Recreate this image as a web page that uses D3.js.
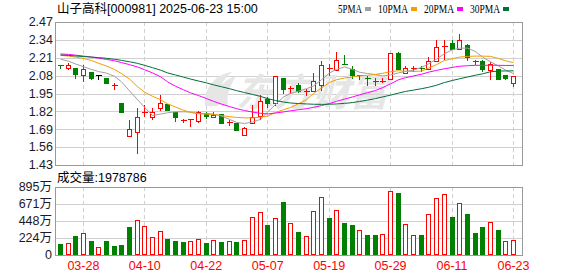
<!DOCTYPE html>
<html><head><meta charset="utf-8">
<script src="https://cdn.jsdelivr.net/npm/d3@7"></script>
<style>
html,body{margin:0;padding:0;background:#fff;}
svg{display:block;font-family:"Liberation Sans","Noto Sans CJK SC",sans-serif;}
</style></head><body>
<svg id="c" width="578" height="276"></svg>
<script>
const title = "山子高科[000981] 2025-06-23 15:00";
const dates = ["03-25","03-26","03-27","03-28","03-31","04-01","04-02","04-03","04-07","04-08",
"04-09","04-10","04-11","04-14","04-15","04-16","04-17","04-18","04-21","04-22",
"04-23","04-24","04-25","04-28","04-29","04-30","05-06","05-07","05-08","05-09",
"05-12","05-13","05-14","05-15","05-16","05-19","05-20","05-21","05-22","05-23",
"05-26","05-27","05-28","05-29","05-30","06-03","06-04","06-05","06-06","06-09",
"06-10","06-11","06-12","06-13","06-16","06-17","06-18","06-19","06-20","06-23"];
const opens = [2.157,2.138,2.133,2.085,2.106,2.082,2.065,2.010,1.880,1.638,
1.668,1.812,1.779,1.847,1.871,1.815,1.757,1.758,1.752,1.810,
1.779,1.799,1.742,1.735,1.651,1.738,1.784,1.910,1.881,2.063,
1.990,2.009,1.964,1.966,2.009,2.134,2.118,2.164,2.131,2.075,
2.064,2.042,2.040,2.058,2.242,2.097,2.132,2.132,2.131,2.189,
2.294,2.317,2.276,2.300,2.185,2.184,2.118,2.128,2.087,2.029];
const highs = [2.167,2.177,2.133,2.167,2.114,2.082,2.065,2.034,1.880,1.766,
1.854,1.874,1.849,1.946,1.881,1.815,1.772,1.772,1.828,1.825,
1.823,1.811,1.767,1.743,1.716,1.871,1.946,1.932,2.075,2.063,
2.009,2.031,1.990,2.106,2.194,2.172,2.257,2.237,2.155,2.094,
2.082,2.070,2.070,2.242,2.259,2.160,2.155,2.160,2.223,2.344,
2.344,2.346,2.388,2.315,2.198,2.198,2.184,2.128,2.087,2.082];
const lows = [2.133,2.131,2.065,2.043,2.053,2.058,2.029,1.985,1.818,1.638,
1.520,1.784,1.767,1.832,1.832,1.753,1.743,1.716,1.740,1.774,
1.779,1.738,1.723,1.687,1.651,1.738,1.762,1.849,1.869,1.954,
1.954,1.961,1.937,1.966,1.975,2.087,2.118,2.162,2.063,2.058,
2.014,2.014,2.033,2.058,2.128,2.097,2.111,2.111,2.131,2.189,
2.199,2.276,2.276,2.196,2.167,2.111,2.058,2.058,2.058,2.008];
const closes = [2.150,2.157,2.092,2.126,2.065,2.082,2.029,2.013,1.818,1.692,
1.777,1.815,1.816,1.881,1.832,1.782,1.760,1.761,1.815,1.784,
1.794,1.738,1.745,1.687,1.697,1.777,1.896,1.881,2.075,1.983,
1.993,1.965,1.968,2.039,2.155,2.136,2.191,2.162,2.082,2.087,
2.062,2.040,2.042,2.242,2.128,2.133,2.135,2.130,2.189,2.286,
2.296,2.276,2.337,2.218,2.183,2.131,2.165,2.058,2.065,2.077];
const volumes = [145,153,250,285,184,101,184,118,132,368,
456,377,232,311,210,184,171,180,210,158,
193,171,180,171,193,496,561,395,487,697,
417,303,250,575,759,487,592,421,395,325,
263,263,272,838,812,404,259,259,535,746,
798,496,680,535,285,368,430,325,180,197.8786];
const ma5 = [2.200,2.185,2.165,2.145,2.125,2.110,2.098,2.075,2.035,1.970,
1.905,1.850,1.790,1.800,1.810,1.817,1.817,1.815,1.805,1.805,
1.800,1.786,1.762,1.740,1.732,1.742,1.762,1.815,1.870,1.925,
1.950,1.967,1.985,2.005,2.050,2.100,2.125,2.143,2.125,2.105,
2.095,2.088,2.078,2.085,2.100,2.110,2.120,2.140,2.165,2.200,
2.240,2.268,2.280,2.280,2.255,2.215,2.180,2.150,2.120,2.095];
const ma10 = [2.228,2.222,2.215,2.205,2.190,2.170,2.150,2.125,2.095,2.055,
2.000,1.960,1.930,1.905,1.875,1.852,1.828,1.812,1.803,1.800,
1.797,1.790,1.782,1.776,1.773,1.772,1.778,1.785,1.812,1.832,
1.848,1.875,1.905,1.950,1.990,2.030,2.050,2.063,2.070,2.078,
2.082,2.088,2.097,2.108,2.116,2.112,2.110,2.113,2.135,2.160,
2.190,2.203,2.215,2.220,2.222,2.222,2.220,2.205,2.188,2.175];
const ma20 = [2.238,2.234,2.229,2.222,2.215,2.207,2.198,2.188,2.175,2.160,
2.143,2.123,2.100,2.072,2.035,2.003,1.977,1.955,1.935,1.913,
1.893,1.873,1.855,1.840,1.826,1.815,1.806,1.801,1.808,1.816,
1.824,1.832,1.840,1.849,1.862,1.877,1.893,1.909,1.925,1.940,
1.956,1.972,1.992,2.020,2.050,2.065,2.078,2.090,2.105,2.118,
2.130,2.140,2.148,2.152,2.155,2.155,2.155,2.155,2.154,2.154];
const ma30 = [2.230,2.227,2.223,2.219,2.215,2.211,2.206,2.199,2.191,2.181,
2.169,2.155,2.138,2.120,2.100,2.085,2.069,2.055,2.041,2.027,
2.013,1.999,1.985,1.971,1.957,1.943,1.929,1.913,1.899,1.888,
1.881,1.877,1.874,1.872,1.871,1.872,1.874,1.878,1.884,1.892,
1.902,1.913,1.925,1.938,1.953,1.965,1.975,1.985,1.995,2.010,
2.030,2.045,2.057,2.070,2.083,2.093,2.108,2.113,2.114,2.115];
const priceTicks = [2.47,2.34,2.21,2.08,1.95,1.82,1.69,1.56,1.43];
const volTicks = [0,224,448,671,895];
const dateLabels = ["03-28","04-10","04-22","05-07","05-19","05-29","06-11","06-23"];
const legendNames = ["5PMA","10PMA","20PMA","30PMA"];
const maColors = ["#a0a0a0","#f0a000","#ff00ff","#00703c"];
const maSeries = [ma5, ma10, ma20, ma30];

const RED = "#ff0000", GREEN = "#008000", FRAME = "#999", GRID = "#d0d0d0";
const L = 55, R = 522, T = 22, B = 165, VT = 187, VB = 255;

const svg = d3.select("#c");
const x = d3.scaleBand().domain(dates).range([56.5, 517.3]);
const cx = i => Math.floor(x(dates[i]) + x.bandwidth() / 2) + 0.5;
const y = d3.scaleLinear().domain([1.43, 2.47]).range([B, T]);
const yv = d3.scaleLinear().domain([0, 895]).range([VB, VT]);
const py = v => Math.round(y(v)) + 0.5;

// grids
const grid = svg.append("g").attr("shape-rendering", "crispEdges");
grid.selectAll(".hp").data(priceTicks.slice(1, -1)).join("line")
  .attr("x1", L).attr("x2", R).attr("y1", d => Math.round(y(d)) + 0.5).attr("y2", d => Math.round(y(d)) + 0.5)
  .attr("stroke", GRID);
grid.selectAll(".hv").data(volTicks.slice(1, -1)).join("line")
  .attr("x1", L).attr("x2", R).attr("y1", d => Math.round(yv(d)) + 0.5).attr("y2", d => Math.round(yv(d)) + 0.5)
  .attr("stroke", GRID);
const dl = d => Math.floor(x(d) + x.bandwidth() / 2) + 0.5;
[[T, B], [VT, VB]].forEach(([a, b]) => {
  grid.append("g").selectAll("line").data(dateLabels).join("line")
    .attr("x1", dl).attr("x2", dl).attr("y1", a).attr("y2", b)
    .attr("stroke", GRID).attr("stroke-dasharray", "4,3");
});

// watermark
svg.append("text").attr("x", 236).attr("y", 106).attr("font-size", 38).attr("font-weight", "bold")
  .attr("font-style", "italic").attr("fill", "#e6e6e6").attr("font-family", "Noto Sans CJK SC")
  .text("东方财富");
svg.append("path").attr("d", "M205,106 C203,90 214,74 232,72 C222,80 216,92 218,106 Z M214,104 C214,92 222,80 236,76 C230,86 226,96 228,106 Z")
  .attr("fill", "#e6e6e6");

// frames
const fr = svg.append("g").attr("fill", "none").attr("stroke", FRAME).attr("shape-rendering", "crispEdges");
fr.append("rect").attr("x", L + 0.5).attr("y", T + 0.5).attr("width", R - L).attr("height", B - T);
fr.append("rect").attr("x", L + 0.5).attr("y", VT + 0.5).attr("width", R - L).attr("height", VB - VT);

// candles
const cg = svg.append("g").attr("shape-rendering", "crispEdges");
dates.forEach((d, i) => {
  const o = opens[i], c = closes[i], h = highs[i], l = lows[i];
  const col = c > o ? RED : (c < o ? GREEN : "#000");
  const X = cx(i);
  const top = py(Math.max(o, c)), bot = py(Math.min(o, c));
  cg.append("line").attr("x1", X).attr("x2", X).attr("y1", py(h)).attr("y2", py(l)).attr("stroke", col);
  if (bot - top < 1.5) {
    cg.append("line").attr("x1", X - 3).attr("x2", X + 3).attr("y1", top).attr("y2", top).attr("stroke", col);
  } else if (c > o) {
    cg.append("rect").attr("x", X - 2).attr("y", top).attr("width", 4).attr("height", bot - top)
      .attr("fill", "#fff").attr("stroke", col);
  } else {
    cg.append("rect").attr("x", X - 2.5).attr("y", top - 0.5).attr("width", 5).attr("height", bot - top + 1)
      .attr("fill", col);
  }
});

// MA lines
maSeries.forEach((s, k) => {
  svg.append("path").datum(s)
    .attr("d", d3.line().x((v, i) => cx(i)).y(v => y(v)))
    .attr("fill", "none").attr("stroke", maColors[k]).attr("stroke-width", 1);
});

// volume bars
const vg = svg.append("g").attr("shape-rendering", "crispEdges");
volumes.forEach((v, i) => {
  const up = i === 0 ? closes[i] >= opens[i] : closes[i] >= closes[i - 1];
  const X = cx(i);
  const top = Math.round(yv(v));
  if (up) {
    vg.append("rect").attr("x", X - 2).attr("y", top + 0.5).attr("width", 4).attr("height", VB - top - 1)
      .attr("fill", "#fff").attr("stroke", RED);
  } else {
    vg.append("rect").attr("x", X - 2.5).attr("y", top).attr("width", 5).attr("height", VB - top)
      .attr("fill", GREEN);
  }
});

// axes
const ya = svg.append("g").attr("transform", `translate(${L},0)`)
  .call(d3.axisLeft(y).tickValues(priceTicks).tickSize(0).tickPadding(2).tickFormat(d3.format(".2f")));
const yva = svg.append("g").attr("transform", `translate(${L},0)`)
  .call(d3.axisLeft(yv).tickValues(volTicks).tickSize(0).tickPadding(3).tickFormat(d => d === 0 ? "0" : d + "万"));
const xa = svg.append("g").attr("transform", `translate(0,${VB})`)
  .call(d3.axisBottom(x).tickValues(dateLabels).tickSize(0).tickPadding(6));
[ya, yva, xa].forEach(g => {
  g.select(".domain").remove();
  g.selectAll("text").attr("font-size", 12.5).attr("font-family", "Liberation Sans, Noto Sans CJK SC");
});
ya.selectAll("text").attr("fill", "#1a1a2a").attr("dy", "0.3em");
yva.selectAll("text").attr("fill", "#1a1a2a").attr("dy", "0.3em");
xa.selectAll("text").attr("fill", RED);

// title & labels
svg.append("text").attr("x", 57).attr("y", 13).attr("font-size", 12.5).attr("fill", "#000").text(title);
svg.append("text").attr("x", 57).attr("y", 182).attr("font-size", 12.5).attr("fill", "#000")
  .text("成交量:" + Math.round(volumes[volumes.length - 1] * 10000));

// legend
let lx = 338;
legendNames.forEach((n, k) => {
  const w = n.length * 6;
  svg.append("text").attr("x", lx).attr("y", 12.5).attr("font-size", 13)
    .attr("font-family", "Liberation Serif").attr("textLength", w).attr("lengthAdjust", "spacingAndGlyphs")
    .attr("fill", "#000").text(n);
  svg.append("rect").attr("x", lx + w + 3).attr("y", 7).attr("width", 6).attr("height", 4).attr("fill", maColors[k]);
  lx += w + 3 + 6 + 7;
});
</script>
</body></html>
